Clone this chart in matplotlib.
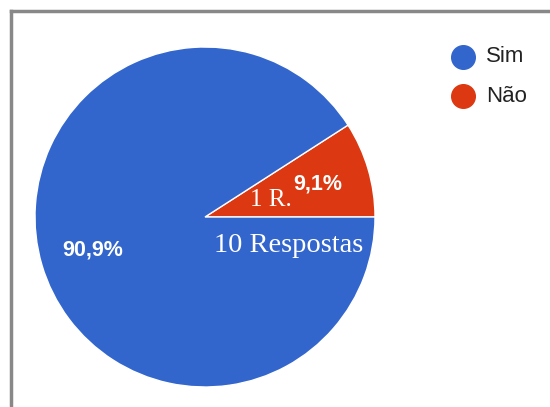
import matplotlib.pyplot as plt
from matplotlib.lines import Line2D

# data
categories = ['Sim', 'Não']
respostas = [10, 1]
colors = ['#3366CC', '#DC3912']

W, H = 550, 407
fig = plt.figure(figsize=(W / 100, H / 100), dpi=100)
fig.patch.set_facecolor('white')

# pie axes: centre ~ (205, 217) px, radius ~170 px
cx, cy, r = 205, 217, 170
ax = fig.add_axes([(cx - r) / W, (H - cy - r) / H, 2 * r / W, 2 * r / H])

wedges, texts, autotexts = ax.pie(
    respostas[::-1], colors=colors[::-1], startangle=0, counterclock=True,
    radius=1, pctdistance=0.69,
    autopct=lambda p: f'{p:.1f}%'.replace('.', ','),
    wedgeprops=dict(edgecolor='white', linewidth=1),
    textprops=dict(color='white', fontsize=15.5, family='Liberation Sans',
                   fontweight='bold'))
ax.set_xlim(-1, 1)
ax.set_ylim(-1, 1)
ax.set_aspect('equal')
ax.axis('off')

# hand written notes on the chart
ax.text(0.39, 0.10, f'{respostas[1]} R.', color='white', fontsize=18,
        family='Liberation Serif', ha='center', va='center')
ax.text(0.49, -0.17, f'{respostas[0]} Respostas', color='white', fontsize=20.5,
        family='Liberation Serif', ha='center', va='center')

# legend
for i, (lab, col) in enumerate(zip(categories, colors)):
    y = 1 - (57 + i * 39) / H
    fig.add_artist(Line2D([463 / W], [y], marker='o', markersize=17,
                          color=col, transform=fig.transFigure))
    fig.text(486 / W, y, lab, color='#222222', fontsize=16,
             family='Liberation Sans', va='center', ha='left')

# grey frame
fig.add_artist(Line2D([11 / W, 1], [1 - 11 / H, 1 - 11 / H], color='#888888',
                      linewidth=2.5, transform=fig.transFigure))
fig.add_artist(Line2D([11 / W, 11 / W], [0, 1 - 11 / H], color='#888888',
                      linewidth=2.5, transform=fig.transFigure))

fig.savefig('out.png', dpi=100)
